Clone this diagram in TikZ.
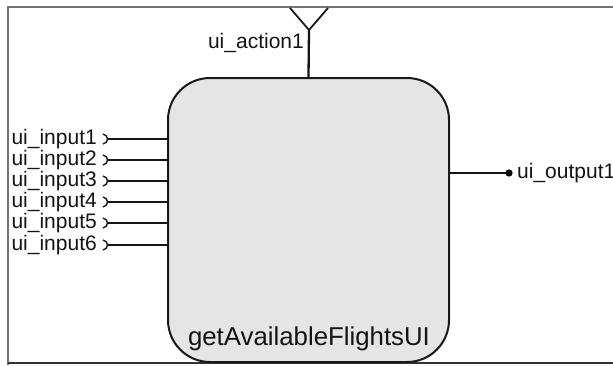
\documentclass[tikz,border=0pt]{standalone}
\usepackage{fontspec}
\setmainfont{Liberation Sans}
\begin{document}
\begin{tikzpicture}[x=1pt,y=-1pt,
  lbl/.style={inner sep=0pt,font=\fontsize{21}{21}\selectfont,text=black!92},
  mainbox/.style={draw=black!90,line width=2pt,fill=black!10,rounded corners=42pt,
    minimum width=281pt,minimum height=284pt,inner sep=0pt},
  conn/.style={draw=black!92,line width=2.3pt},
  brk/.style={draw=black!90,line width=1.4pt},
  frame/.style={draw=black!55,line width=2.2pt}]
\useasboundingbox (0,0) rectangle (613,365);
% frame
\draw[frame] (8,365) -- (8,7) -- (613,7);
\draw[draw=black!80,line width=2.2pt] (8,363) -- (613,363);
% main box
\node[mainbox] (box) at (308.5,220) {};
\node[inner sep=0pt,anchor=base,font=\fontsize{25.8}{26}\selectfont,text=black!92] (title) at (309,345) {getAvailableFlightsUI};
% action
\coordinate (fork) at (309,30);
\coordinate (yl) at (290,8);
\coordinate (yr) at (328,8);
\draw[conn] (box.north) -- (fork);
\draw[brk,line width=1.8pt] (yl) -- (fork) -- (yr);
\node[lbl,anchor=base east] (act) at (304,48) {ui\_action1};
% inputs
\foreach \i/\y in {1/139,2/160,3/181,4/202,5/223,6/245}{
  \coordinate (b\i) at (108,\y);
  \node[lbl,anchor=base east] (in\i) at (97,\y+5) {ui\_input\i};
  \draw[conn] (b\i) -- (box.west |- b\i);
  \draw[brk] ([shift={(-5,-5)}]b\i) .. controls ([shift={(1,-4)}]b\i) and ([shift={(1,4)}]b\i) .. ([shift={(-5,5)}]b\i);
}
% output
\coordinate (dot) at (509,173);
\draw[conn] (box.east |- dot) -- (dot);
\fill[black] (dot) circle (3.6pt);
\node[lbl,anchor=base west] (out) at (517,178) {ui\_output1};
\end{tikzpicture}
\end{document}
